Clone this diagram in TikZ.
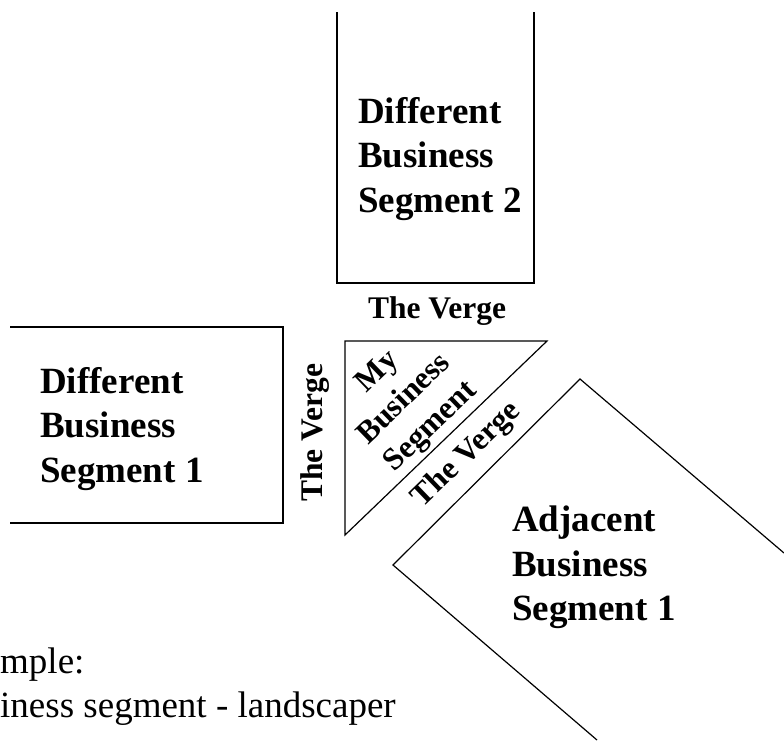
\documentclass[tikz,border=0pt]{standalone}
\usepackage{fontspec}
\setmainfont{Liberation Serif}
\begin{document}
\begin{tikzpicture}[x=1pt,y=-1pt]

\tikzstyle{seglabel}=[inner sep=0pt, align=left, anchor=north west, font=\fontsize{37}{44.5}\selectfont\bfseries]
\tikzstyle{vergelabel}=[inner sep=0pt, font=\fontsize{31.5}{38}\selectfont\bfseries]
\tikzstyle{outline}=[draw=black, line width=1.2pt, line join=miter]
\tikzstyle{note}=[inner sep=0pt, align=left, anchor=north west, font=\fontsize{37}{44}\selectfont]

\useasboundingbox (0,0) rectangle (784,740);

% the segments
\draw[outline] (337,12) -- (337,283) -- (534,283) -- (534,12);
\draw[outline] (10,327) -- (283,327) -- (283,523) -- (10,523);
\draw[outline] (784,553) -- (580,379) -- (393,565) -- (597,740);
\draw[outline] (345,341) -- (547,341) -- (345,535) -- cycle;

\node[seglabel] (different2) at (358,97) {Different\\Business\\Segment 2};
\node[seglabel] (different1) at (40,367) {Different\\Business\\Segment 1};
\node[seglabel] (adjacent1) at (512,506) {Adjacent\\Business\\Segment 1};
\node[vergelabel, align=center, rotate=44, font=\fontsize{31.5}{38}\selectfont\bfseries] (mine) at (405,400) {My\\Business\\Segment};

% the verges
\node[vergelabel] (vergetop) at (437,311) {The Verge};
\node[vergelabel, rotate=90] (vergeleft) at (315,433) {The Verge};
\node[vergelabel, rotate=44] (vergediag) at (467,455) {The Verge};

\node[note] (example) at (0,648) {mple:\\iness segment - landscaper};
\end{tikzpicture}
\end{document}
